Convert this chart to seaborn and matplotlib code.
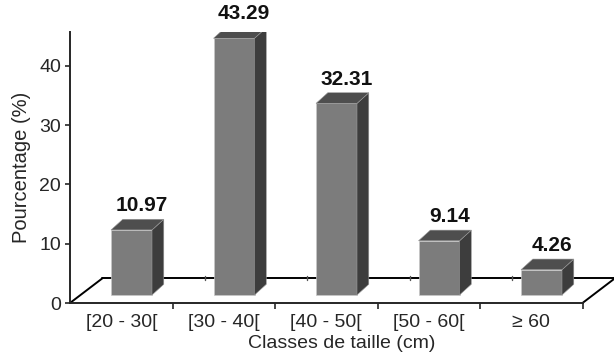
import matplotlib
matplotlib.use("Agg")
import matplotlib.pyplot as plt
from matplotlib.patches import Polygon
import seaborn as sns
import numpy as np
import pandas as pd

# Size classes and their share of the sample
classes = ["[20 - 30[", "[30 - 40[", "[40 - 50[", "[50 - 60[", "\u2265 60"]
percent = [10.97, 43.29, 32.31, 9.14, 4.26]
y_ticks = [0, 10, 20, 30, 40]

sns.set_theme(style="ticks")
plt.rcParams["font.family"] = ["Liberation Sans", "DejaVu Sans"]

df = pd.DataFrame({"classe": classes, "pct": percent})

fig = plt.figure(figsize=(6.14, 3.58), dpi=100)
ax = fig.add_axes([70 / 614, 55 / 358, 544 / 614, 271 / 358])

FRONT = "#7c7c7c"
SIDE = "#3d3d3d"
TOP = "#4e4e4e"

sns.barplot(data=df, x="classe", y="pct", color=FRONT, width=0.4,
            saturation=1, edgecolor="#c8c8c8", linewidth=0.5, ax=ax, zorder=3)

ax.set_xlim(-0.6, -0.6 + 544 / 102.5)
ax.set_ylim(0, 45.7)

# perspective offsets (data units)
FLOOR_DX, FLOOR_DY = 0.315, 4.15
BAR_DX, BAR_DY = 0.115, 1.8
BASE = 1.35

# floor of the 3-D box
x0, x1 = -0.6, 4.4
lw = 1.4
ax.plot([x0, x0 + FLOOR_DX], [0, FLOOR_DY], color="black", lw=lw, clip_on=False, zorder=1)
ax.plot([x0 + FLOOR_DX, x1 + FLOOR_DX], [FLOOR_DY, FLOOR_DY], color="black", lw=lw,
        clip_on=False, zorder=1)
ax.plot([x1, x1 + FLOOR_DX], [0, FLOOR_DY], color="black", lw=lw, clip_on=False, zorder=1)
for b in np.arange(0.4, 4.0, 1.0):
    ax.plot([b + FLOOR_DX] * 2, [FLOOR_DY - 0.35, FLOOR_DY + 0.35], color="#555555",
            lw=1.0, clip_on=False, zorder=1)

# lift bars onto the floor and add side / top faces
for p, v in zip(ax.patches, percent):
    p.set_y(BASE)
    p.set_height(v)
    xl, w = p.get_x(), p.get_width()
    xr = xl + w
    yt = BASE + v
    side = Polygon([(xr, BASE), (xr + BAR_DX, BASE + BAR_DY), (xr + BAR_DX, yt + BAR_DY), (xr, yt)],
                   closed=True, facecolor=SIDE, edgecolor="#9a9a9a", lw=0.4, zorder=3)
    top = Polygon([(xl, yt), (xl + BAR_DX, yt + BAR_DY), (xr + BAR_DX, yt + BAR_DY), (xr, yt)],
                  closed=True, facecolor=TOP, edgecolor="#9a9a9a", lw=0.4, zorder=3)
    ax.add_patch(side)
    ax.add_patch(top)
    ax.text(xl + w / 2 + 0.1, yt + BAR_DY + 0.7, f"{v:.2f}", ha="center", va="bottom",
            fontsize=15, fontweight="bold", color="#111111", clip_on=False)

# axes styling
for s in ["top", "right"]:
    ax.spines[s].set_visible(False)
ax.spines["left"].set_linewidth(lw)
ax.spines["bottom"].set_linewidth(lw)
ax.spines["bottom"].set_bounds(x0, x1)

ax.set_xticks(np.arange(len(classes)) - 0.1)
ax.set_xticklabels(classes, fontsize=14)
ax.set_xticks(np.arange(0.4, 4.5, 1.0), minor=True)
ax.tick_params(axis="x", which="major", length=0, pad=8)
ax.tick_params(axis="x", which="minor", length=4, width=1.2, direction="out")
ax.set_yticks(y_ticks)
ax.set_yticklabels([str(t) for t in y_ticks], fontsize=14)
ax.tick_params(axis="y", length=3.5, width=1.2, pad=3)

ax.set_xlabel("Classes de taille (cm)", fontsize=14, labelpad=3)
ax.set_ylabel("Pourcentage (%)", fontsize=14.5, labelpad=6)

fig.savefig("out.png", dpi=100)
